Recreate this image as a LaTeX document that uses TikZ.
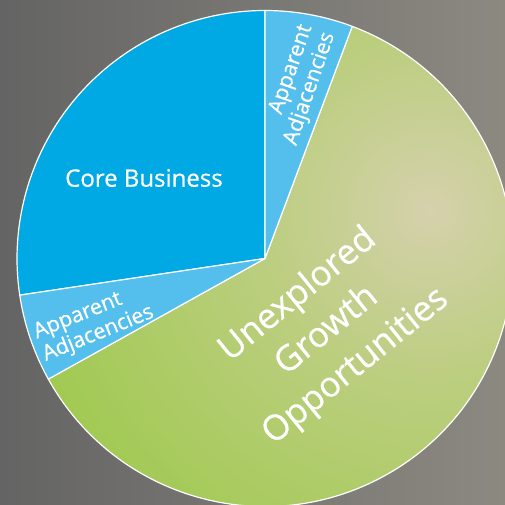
\documentclass[tikz,border=0pt]{standalone}
\usepackage{fontspec}
\setmainfont{Open Sans}[FakeBold=0.6]
\usetikzlibrary{calc}
\definecolor{bgL}{RGB}{100,100,100}
\definecolor{bgR}{RGB}{140,137,129}
\definecolor{coreblue}{RGB}{0,169,228}
\definecolor{adjblue}{RGB}{84,190,236}
\definecolor{gdark}{RGB}{152,200,66}
\definecolor{gmid}{RGB}{188,206,128}
\definecolor{glight}{RGB}{213,209,172}
\pgfdeclareradialshading{greenshade}{\pgfpointorigin}{color(0bp)=(glight); color(6bp)=(gmid); color(18bp)=(gdark); color(50bp)=(gdark)}
\tikzset{
  slice/.style={draw=white, line width=1.2pt, line join=round},
  lbl/.style={text=white, inner sep=0pt},
}
\begin{document}
\begin{tikzpicture}[x=1pt,y=1pt]
\useasboundingbox (0,0) rectangle (505,505);
\shade[left color=bgL, right color=bgR] (0,0) rectangle (505,505);
\coordinate (C) at (265,246.5);
\def\R{248}
% green slice
\begin{scope}
\clip (C) -- ++(209.1:\R) arc[start angle=209.1, end angle=429.4, radius=\R] -- cycle;
\shade[shading=greenshade] (430,295) circle (700);
\end{scope}
\draw[slice] (C) -- ++(209.1:\R) arc[start angle=209.1, end angle=429.4, radius=\R] -- cycle;
% core
\fill[coreblue] (C) -- ++(90:\R) arc[start angle=90, end angle=188.5, radius=\R] -- cycle;
\draw[slice] (C) -- ++(90:\R) arc[start angle=90, end angle=188.5, radius=\R] -- cycle;
% left adjacencies
\fill[adjblue] (C) -- ++(188.5:\R) arc[start angle=188.5, end angle=209.1, radius=\R] -- cycle;
\draw[slice] (C) -- ++(188.5:\R) arc[start angle=188.5, end angle=209.1, radius=\R] -- cycle;
% top adjacencies
\fill[adjblue] (C) -- ++(69.4:\R) arc[start angle=69.4, end angle=90, radius=\R] -- cycle;
\draw[slice] (C) -- ++(69.4:\R) arc[start angle=69.4, end angle=90, radius=\R] -- cycle;
% labels
\node[lbl, font=\fontsize{24}{28}\selectfont] (core) at (144,327) {Core Business};
\node[lbl, align=left, rotate=22, font=\fontsize{21.5}{24}\selectfont] (adjL) at (94,182) {Apparent\\Adjacencies};
\node[lbl, align=right, rotate=71, font=\fontsize{21.5}{24}\selectfont] (adjT) at (299,420) {Apparent\\Adjacencies};
\node[lbl, align=center, rotate=39, font=\fontsize{35}{46}\selectfont] (grow) at (327,174) {Unexplored\\Growth\\Opportunities};
\end{tikzpicture}
\end{document}
